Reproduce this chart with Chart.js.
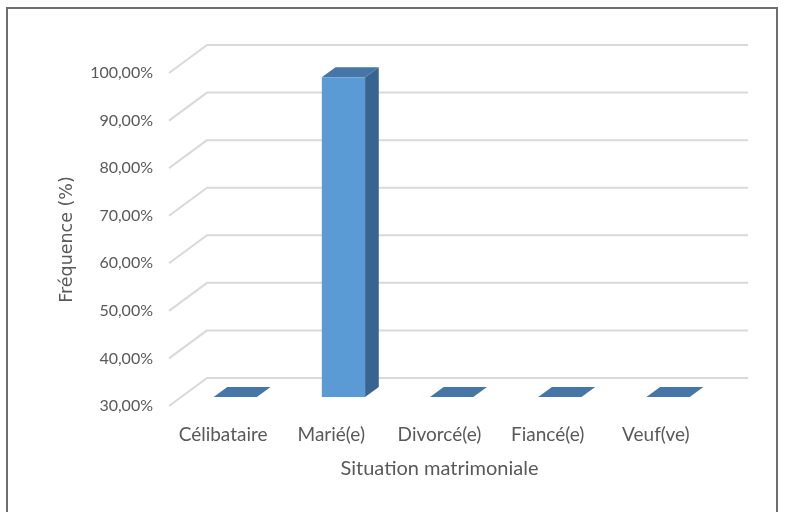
<!DOCTYPE html>
<html lang="fr">
<head>
<meta charset="utf-8">
<title>Situation matrimoniale</title>
<script src="https://cdn.jsdelivr.net/npm/chart.js@4/dist/chart.umd.min.js"></script>
<style>
  html, body { margin: 0; padding: 0; background: #ffffff; }
  #wrap { position: relative; width: 786px; height: 512px; }
  canvas { display: block; }
</style>
</head>
<body>
<div id="wrap"><canvas id="chart" width="786" height="512"></canvas></div>
<script>
// Données : fréquence (%) par situation matrimoniale
const categories = ['Célibataire', 'Marié(e)', 'Divorcé(e)', 'Fiancé(e)', 'Veuf(ve)'];
const frequences = [0.8, 97.2, 0.7, 0.6, 0.7];
const yTickValues = [30, 40, 50, 60, 70, 80, 90, 100];
const yMin = 30;
const yMax = 100;

// Profondeur de la vue 3D (décalage du mur du fond)
const DEPTH_X = 38;
const DEPTH_Y = 28;
// Position des colonnes dans la profondeur (fraction avant / arrière)
const COL_FRONT = 0.32;
const COL_BACK = 0.68;

const COLORS = {
  front: '#5B9BD5',
  side: '#386590',
  top: '#4675A8',
  grid: '#d9d9d9',
  text: '#595959',
  border: '#6e6e6e'
};

const fmtPct = v => v.toFixed(2).replace('.', ',') + '%';

// Cadre du graphique
const framePlugin = {
  id: 'frame',
  beforeDraw(chart) {
    const ctx = chart.ctx;
    ctx.save();
    ctx.fillStyle = '#ffffff';
    ctx.fillRect(0, 0, chart.width, chart.height);
    ctx.strokeStyle = COLORS.border;
    ctx.lineWidth = 2;
    ctx.strokeRect(7, 8, 770, 620);
    ctx.restore();
  }
};

// Quadrillage en perspective : trait oblique puis ligne sur le mur du fond
const wallGridPlugin = {
  id: 'wallGrid',
  beforeDatasetsDraw(chart) {
    const { ctx, chartArea, scales } = chart;
    const y = scales.y;
    ctx.save();
    ctx.strokeStyle = COLORS.grid;
    ctx.lineWidth = 2;
    ctx.lineJoin = 'round';
    y.ticks.forEach(t => {
      const py = y.getPixelForValue(t.value);
      ctx.beginPath();
      ctx.moveTo(chartArea.left, py);
      ctx.lineTo(chartArea.left + DEPTH_X, py - DEPTH_Y);
      ctx.lineTo(chartArea.right + DEPTH_X, py - DEPTH_Y);
      ctx.stroke();
    });
    ctx.restore();
  }
};

// Colonnes 3D : face avant, face latérale et dessus
const columns3dPlugin = {
  id: 'columns3d',
  afterDatasetsDraw(chart) {
    const ctx = chart.ctx;
    const meta = chart.getDatasetMeta(0);
    const floor = chart.scales.y.getPixelForValue(yMin);
    const ox = DEPTH_X * COL_FRONT, oy = DEPTH_Y * COL_FRONT;
    const dx = DEPTH_X * (COL_BACK - COL_FRONT), dy = DEPTH_Y * (COL_BACK - COL_FRONT);
    ctx.save();
    meta.data.forEach(el => {
      const p = el.getProps(['x', 'y', 'base', 'width'], true);
      // les valeurs sous le minimum de l'axe restent posées sur le plancher
      const b = Math.min(p.base, floor);
      const top = Math.min(p.y, b) - oy;
      const base = b - oy;
      const left = p.x - p.width / 2 + ox;
      const right = left + p.width;
      const h = base - top;

      if (h > 0.5) {
        ctx.fillStyle = COLORS.front;
        ctx.fillRect(left, top, p.width, h);

        ctx.fillStyle = COLORS.side;
        ctx.beginPath();
        ctx.moveTo(right, top);
        ctx.lineTo(right + dx, top - dy);
        ctx.lineTo(right + dx, base - dy);
        ctx.lineTo(right, base);
        ctx.closePath();
        ctx.fill();
      }

      ctx.fillStyle = COLORS.top;
      ctx.beginPath();
      ctx.moveTo(left, top);
      ctx.lineTo(left + dx, top - dy);
      ctx.lineTo(right + dx, top - dy);
      ctx.lineTo(right, top);
      ctx.closePath();
      ctx.fill();
    });
    ctx.restore();
  }
};

new Chart(document.getElementById('chart'), {
  type: 'bar',
  data: {
    labels: categories,
    datasets: [{
      label: 'Fréquence (%)',
      data: frequences,
      base: yMin,
      backgroundColor: 'rgba(0,0,0,0)',
      borderWidth: 0,
      categoryPercentage: 1.0,
      barPercentage: 0.4
    }]
  },
  options: {
    responsive: false,
    animation: false,
    events: [],
    layout: { padding: { left: 40, top: 73, right: 76, bottom: 0 } },
    plugins: {
      legend: { display: false },
      tooltip: { enabled: false }
    },
    scales: {
      x: {
        afterFit: s => { s.height = 106; },
        grid: { display: false, drawTicks: false },
        border: { display: false },
        ticks: {
          color: COLORS.text,
          font: { family: 'Lato', size: 19 },
          padding: 17,
          maxRotation: 0
        },
        title: {
          display: true,
          text: 'Situation matrimoniale',
          color: COLORS.text,
          font: { family: 'Lato', size: 20 },
          padding: { top: 0, bottom: 31 }
        }
      },
      y: {
        min: yMin,
        max: yMax,
        afterFit: s => { s.width = 129; },
        afterBuildTicks: s => { s.ticks = yTickValues.map(v => ({ value: v })); },
        grid: { display: false, drawTicks: false },
        border: { display: false },
        ticks: {
          color: COLORS.text,
          font: { family: 'Lato', size: 16 },
          padding: 16,
          callback: v => fmtPct(v)
        },
        title: {
          display: true,
          text: 'Fréquence (%)',
          color: COLORS.text,
          font: { family: 'DejaVu Sans', size: 17.5 },
          padding: { top: 17, bottom: 0 }
        }
      }
    }
  },
  plugins: [framePlugin, wallGridPlugin, columns3dPlugin]
});
</script>
</body>
</html>
